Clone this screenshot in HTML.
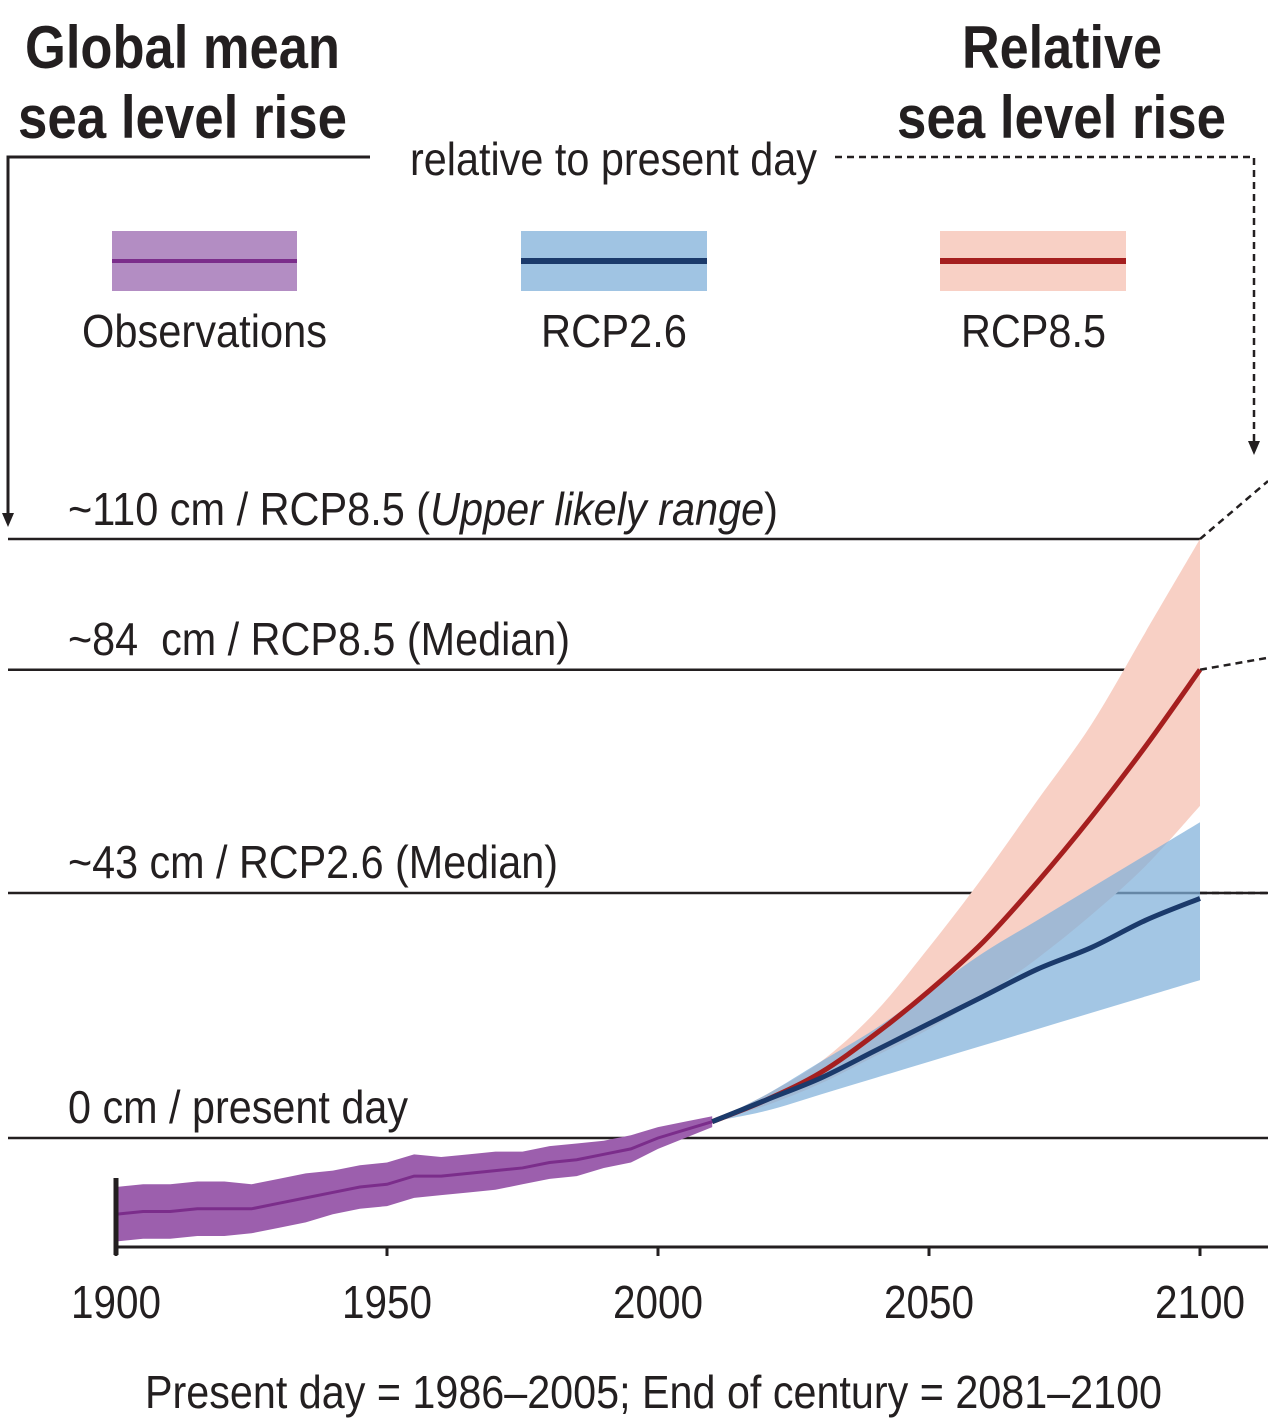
<!DOCTYPE html>
<html><head><meta charset="utf-8"><style>
html,body{margin:0;padding:0;background:#fff;}
svg{display:block;font-family:"Liberation Sans Narrow","Liberation Sans",sans-serif;}
</style></head><body>
<svg id="chart" width="1268" height="1420" viewBox="0 0 1268 1420">
<g>
<text x="25" y="68" font-size="60" font-weight="bold" fill="#231f20" textLength="315" lengthAdjust="spacingAndGlyphs">Global mean</text>
<text x="18" y="138" font-size="60" font-weight="bold" fill="#231f20" textLength="329" lengthAdjust="spacingAndGlyphs">sea level rise</text>
<text x="962" y="68" font-size="60" font-weight="bold" fill="#231f20" textLength="200" lengthAdjust="spacingAndGlyphs">Relative</text>
<text x="897" y="138" font-size="60" font-weight="bold" fill="#231f20" textLength="329" lengthAdjust="spacingAndGlyphs">sea level rise</text>
<text x="410" y="175" font-size="46" fill="#231f20" textLength="407" lengthAdjust="spacingAndGlyphs">relative to present day</text>
<polyline points="370,157 8,157 8,515" fill="none" stroke="#231f20" stroke-width="3"/>
<polygon points="2,513 14,513 8,527" fill="#231f20"/>
<polyline points="835,157 1254,157 1254,442" fill="none" stroke="#231f20" stroke-width="2.5" stroke-dasharray="7,5"/>
<polygon points="1248,441 1260,441 1254,455" fill="#231f20"/>
</g>
<g>
<g>
<rect x="112" y="231" width="185" height="60" fill="#b38dc3"/>
<line x1="112" y1="261" x2="297" y2="261" stroke="#7b2d8b" stroke-width="4"/>
<text x="82" y="347" font-size="46" fill="#231f20" textLength="245" lengthAdjust="spacingAndGlyphs">Observations</text></g>
<g>
<rect x="521" y="231" width="186" height="60" fill="#a0c4e3"/>
<line x1="521" y1="261" x2="707" y2="261" stroke="#1b3a6b" stroke-width="6"/>
<text x="541" y="347" font-size="46" fill="#231f20" textLength="146" lengthAdjust="spacingAndGlyphs">RCP2.6</text></g>
<g>
<rect x="940" y="231" width="186" height="60" fill="#f8d0c5"/>
<line x1="940" y1="261" x2="1126" y2="261" stroke="#a51f1f" stroke-width="6"/>
<text x="961" y="347" font-size="46" fill="#231f20" textLength="145" lengthAdjust="spacingAndGlyphs">RCP8.5</text></g>
</g>
<g id="plot"></g>
<text x="145" y="1408" font-size="46" fill="#231f20" textLength="1017" lengthAdjust="spacingAndGlyphs">Present day = 1986–2005; End of century = 2081–2100</text>
</svg>
<script>
const projYears=[2010,2020,2030,2040,2050,2060,2070,2080,2090,2100];
const rcp85Median=[3,7,12,19,27,36,47,59,72,86];
const rcp85Upper=[3,8,14,23,35,48,62,76,93,110];
const rcp85Lower=[3,6,10,15,20,26,33,41,50,61];
const rcp26Median=[3,7,11,16,21,26,31,35,40,44];
const rcp26Upper=[3,8,14,20,27,34,40,46,52,58];
const rcp26Lower=[3,5,8,11,14,17,20,23,26,29];
const obsYears=[1900,1905,1910,1915,1920,1925,1930,1935,1940,1945,1950,1955,1960,1965,1970,1975,1980,1985,1990,1995,2000,2005,2010];
const obsMedian=[-14,-13.5,-13.5,-13,-13,-13,-12,-11,-10,-9,-8.5,-7,-7,-6.5,-6,-5.5,-4.5,-4,-3,-2,0,1.5,3];
const obsHalfWidth=[5,5,5,5,5,4.5,4.5,4.5,4,4,4,4,3.5,3.5,3.5,3,3,3,2.5,2.5,2,1.5,1];
const refValues=[0,45,86,110];
const xTicks=[1900,1950,2000,2050,2100];

const X=y=>116+(y-1900)*5.42;
const Y=v=>1138-v*5.445;
const NS="http://www.w3.org/2000/svg";
const plot=document.getElementById('plot');
function mk(tag,attrs){const e=document.createElementNS(NS,tag);for(const k in attrs)e.setAttribute(k,attrs[k]);plot.appendChild(e);return e;}
function smooth(pts,start){
  let d=(start?'M':'L')+pts[0][0]+','+pts[0][1];
  for(let i=0;i<pts.length-1;i++){
    const p0=pts[Math.max(i-1,0)],p1=pts[i],p2=pts[i+1],p3=pts[Math.min(i+2,pts.length-1)];
    const c1=[p1[0]+(p2[0]-p0[0])/6,p1[1]+(p2[1]-p0[1])/6];
    const c2=[p2[0]-(p3[0]-p1[0])/6,p2[1]-(p3[1]-p1[1])/6];
    d+=' C'+c1[0]+','+c1[1]+' '+c2[0]+','+c2[1]+' '+p2[0]+','+p2[1];
  }
  return d;
}
function sband(xs,lo,hi){
  const up=xs.map((x,i)=>[X(x),Y(hi[i])]);
  const dn=xs.map((x,i)=>[X(x),Y(lo[i])]).reverse();
  return smooth(up,true)+' '+smooth(dn,false)+'Z';
}
function band(xs,lo,hi){let d='M'+xs.map((x,i)=>X(x)+','+Y(hi[i])).join(' L');for(let i=xs.length-1;i>=0;i--)d+=' L'+X(xs[i])+','+Y(lo[i]);return d+'Z';}
function line(xs,vs){return 'M'+xs.map((x,i)=>X(x)+','+Y(vs[i])).join(' L');}
function sline(xs,vs){return smooth(xs.map((x,i)=>[X(x),Y(vs[i])]),true);}

const refEnds=[1268,1268,1200,1200];
refValues.forEach((v,i)=>{
  const l=mk('line',{x1:8,y1:Y(v),x2:refEnds[i],y2:Y(v),stroke:'#231f20','stroke-width':2.5});
  
  
});
[[Y(45),Y(45)],[Y(86),Y(86)-12],[Y(110),Y(110)-58]].forEach(p=>{
  const l=mk('line',{x1:1200,y1:p[0],x2:1268,y2:p[1],stroke:'#231f20','stroke-width':2.5,'stroke-dasharray':'7,5'});
  
  
});

const b85=mk('path',{d:sband(projYears,rcp85Lower,rcp85Upper),fill:'#f8d0c5'});


const b26=mk('path',{d:sband(projYears,rcp26Lower,rcp26Upper),fill:'#7fb0da','fill-opacity':0.72});


const ob=mk('path',{d:band(obsYears,obsMedian.map((m,i)=>m-obsHalfWidth[i]),obsMedian.map((m,i)=>m+obsHalfWidth[i])),fill:'#9c5fad'});



const l85=mk('path',{d:sline(projYears,rcp85Median),fill:'none',stroke:'#a51f1f','stroke-width':5});


const l26=mk('path',{d:sline(projYears,rcp26Median),fill:'none',stroke:'#1b3a6b','stroke-width':5});


const ol=mk('path',{d:line(obsYears,obsMedian),fill:'none',stroke:'#7b2d8b','stroke-width':3});



const ax=mk('line',{x1:116,y1:1247,x2:1268,y2:1247,stroke:'#231f20','stroke-width':3});


const vx=mk('line',{x1:116,y1:1178,x2:116,y2:1255,stroke:'#231f20','stroke-width':5});


xTicks.forEach(t=>{
  const tk=mk('line',{x1:X(t),y1:1247,x2:X(t),y2:1256,stroke:'#231f20','stroke-width':3});
  
  
  const tx=mk('text',{x:X(t),y:1318,'text-anchor':'middle','font-size':46,fill:'#231f20',textLength:90,lengthAdjust:'spacingAndGlyphs'});
  tx.textContent=t;
  
  
});

const labels=[[525,710,'~110 cm / RCP8.5 (',"Upper likely range",')'],[655,502,'~84\u00a0\u00a0cm / RCP8.5 (Median)'],[878,490,'~43 cm / RCP2.6 (Median)'],[1123,340,'0 cm / present day']];
labels.forEach(L=>{
  const t=mk('text',{x:68,y:L[0],'font-size':46,fill:'#231f20',textLength:L[1],lengthAdjust:'spacingAndGlyphs'});
  if(L.length>3){
    const a=document.createElementNS(NS,'tspan');a.textContent=L[2];t.appendChild(a);
    const b=document.createElementNS(NS,'tspan');b.setAttribute('font-style','italic');b.textContent=L[3];t.appendChild(b);
    const c=document.createElementNS(NS,'tspan');c.textContent=L[4];t.appendChild(c);
  } else t.textContent=L[2];
  
  
});
</script>
</body></html>
